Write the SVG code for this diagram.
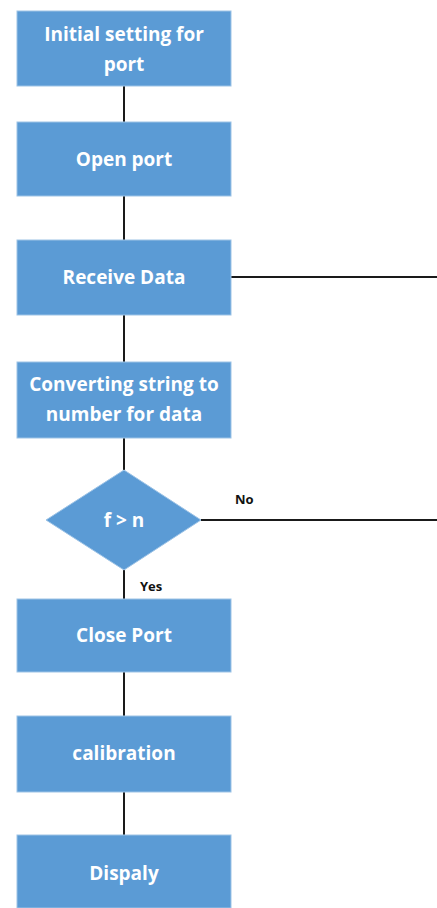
<svg xmlns="http://www.w3.org/2000/svg" width="437" height="908" viewBox="0 0 437 908">
<style>
.box{fill:#5B9BD5;stroke:#9DC3E6;stroke-width:1}
.t{fill:#fff;font-family:"Open Sans","Liberation Sans",sans-serif;font-weight:bold;font-size:19px;text-anchor:middle}
.lbl{fill:#111;font-family:"Open Sans","Liberation Sans",sans-serif;font-weight:bold;font-size:13px}
.c{stroke:#1a1a1a;stroke-width:2;fill:none}
</style>
<rect width="437" height="908" fill="#fff"/>
<g id="connectors">
<line class="c" x1="124" y1="86" x2="124" y2="122"/>
<line class="c" x1="124" y1="196" x2="124" y2="240"/>
<line class="c" x1="124" y1="315" x2="124" y2="362"/>
<line class="c" x1="124" y1="438" x2="124" y2="470"/>
<line class="c" x1="124" y1="570" x2="124" y2="599"/>
<line class="c" x1="124" y1="672" x2="124" y2="716"/>
<line class="c" x1="124" y1="792" x2="124" y2="835"/>
<line class="c" x1="231" y1="277" x2="437" y2="277"/>
<line class="c" x1="201" y1="520" x2="437" y2="520"/>
<text class="lbl" x="235" y="504">No</text>
<text class="lbl" x="140" y="591">Yes</text>
</g>
<g id="n1"><rect class="box" x="17" y="11" width="214" height="75"/><text class="t" x="124" y="41">Initial setting for</text><text class="t" x="124" y="71">port</text></g>
<g id="n2"><rect class="box" x="17" y="122" width="214" height="74"/><text class="t" x="124" y="166">Open port</text></g>
<g id="n3"><rect class="box" x="17" y="240" width="214" height="75"/><text class="t" x="124" y="284">Receive Data</text></g>
<g id="n4"><rect class="box" x="17" y="362" width="214" height="76"/><text class="t" x="124" y="391">Converting string to</text><text class="t" x="124" y="421">number for data</text></g>
<g id="n5"><polygon class="box" points="124,470 201,520 124,570 46,520"/><text class="t" x="124" y="527">f &gt; n</text></g>
<g id="n6"><rect class="box" x="17" y="599" width="214" height="73"/><text class="t" x="124" y="642">Close Port</text></g>
<g id="n7"><rect class="box" x="17" y="716" width="214" height="76"/><text class="t" x="124" y="760">calibration</text></g>
<g id="n8"><rect class="box" x="17" y="835" width="214" height="73"/><text class="t" x="124" y="880">Dispaly</text></g>
</svg>
